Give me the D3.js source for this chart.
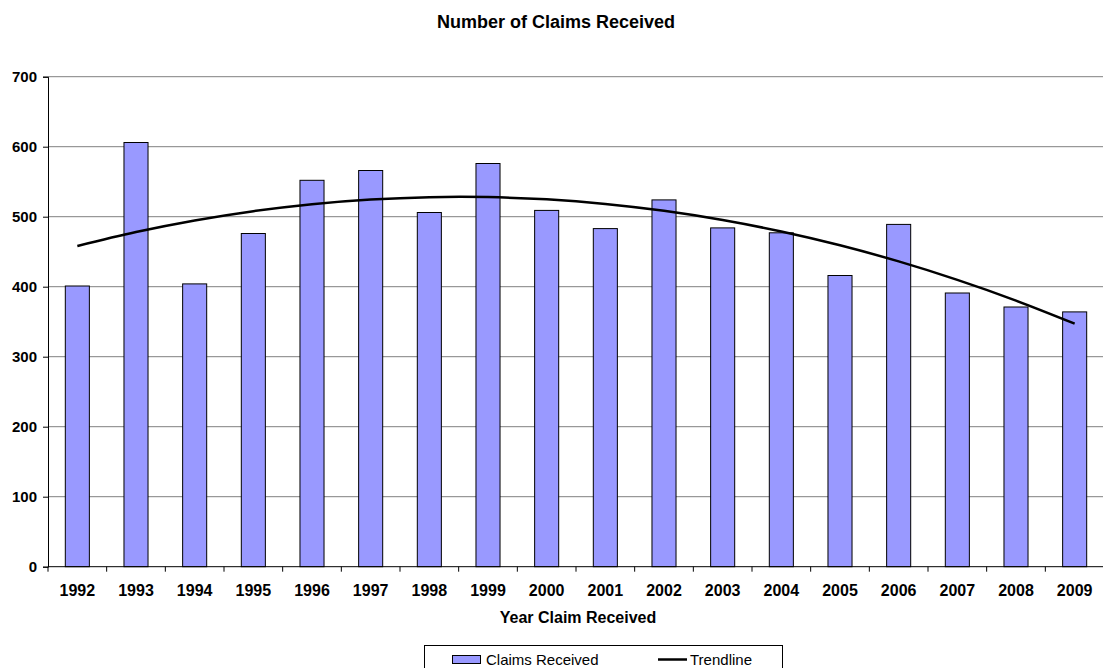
<!DOCTYPE html>
<html>
<head>
<meta charset="utf-8">
<script src="https://cdn.jsdelivr.net/npm/d3@7"></script>
<style>
  html, body { margin: 0; padding: 0; background: #fff; }
  svg { display: block; font-family: Arial, "Liberation Sans", sans-serif; }
</style>
</head>
<body>
<svg id="chart" width="1103" height="668"></svg>
<script>
// Annual claim counts
const years = ["1992","1993","1994","1995","1996","1997","1998","1999","2000",
               "2001","2002","2003","2004","2005","2006","2007","2008","2009"];
const claims = [401, 606, 404, 476, 552, 566, 506, 576, 509,
                483, 524, 484, 477, 416, 489, 391, 371, 364];
const yTicks = [0, 100, 200, 300, 400, 500, 600, 700];

const svg = d3.select("#chart");
const plotLeft = 48, plotRight = 1104, plotTop = 76.7, plotBottom = 566.7;

const x = d3.scaleBand().domain(years).range([plotLeft, plotRight]).padding(0);
const y = d3.scaleLinear().domain([0, 700]).range([plotBottom, plotTop]);
const step = x.step();
const barW = step * 0.41;

// Horizontal gridlines
svg.append("g").selectAll("line")
  .data(yTicks.filter(v => v > 0))
  .join("line")
  .attr("x1", plotLeft).attr("x2", plotRight)
  .attr("y1", d => y(d)).attr("y2", d => y(d))
  .attr("stroke", "#808080").attr("stroke-width", 1);

// Bars
svg.append("g").selectAll("rect")
  .data(years.map((yr, i) => ({ yr, v: claims[i] })))
  .join("rect")
  .attr("x", d => x(d.yr) + (step - barW) / 2)
  .attr("y", d => y(d.v))
  .attr("width", barW)
  .attr("height", d => y(0) - y(d.v))
  .attr("fill", "#9999ff")
  .attr("stroke", "#000")
  .attr("stroke-width", 1);

// Second-order polynomial least-squares trend through the claim counts
function quadFit(vals) {
  const s = [0, 0, 0, 0, 0], r = [0, 0, 0];
  vals.forEach((v, i) => {
    const t = i + 1;
    for (let k = 0; k <= 4; k++) s[k] += Math.pow(t, k);
    for (let k = 0; k <= 2; k++) r[k] += v * Math.pow(t, k);
  });
  const A = [[s[0], s[1], s[2], r[0]], [s[1], s[2], s[3], r[1]], [s[2], s[3], s[4], r[2]]];
  for (let c = 0; c < 3; c++) {
    for (let rr = c + 1; rr < 3; rr++) {
      const f = A[rr][c] / A[c][c];
      for (let k = c; k < 4; k++) A[rr][k] -= f * A[c][k];
    }
  }
  const coef = [0, 0, 0];
  for (let c = 2; c >= 0; c--) {
    let sum = A[c][3];
    for (let k = c + 1; k < 3; k++) sum -= A[c][k] * coef[k];
    coef[c] = sum / A[c][c];
  }
  return t => coef[0] + coef[1] * t + coef[2] * t * t;
}
const trend = quadFit(claims);
const trendPts = years.map((yr, i) => [x(yr) + step / 2, y(trend(i + 1))]);

svg.append("path")
  .attr("d", d3.line().curve(d3.curveNatural)(trendPts))
  .attr("fill", "none")
  .attr("stroke", "#000")
  .attr("stroke-width", 2.5);

// Y axis
const yAxis = svg.append("g")
  .attr("transform", `translate(${plotLeft},0)`)
  .call(d3.axisLeft(y).tickValues(yTicks).tickSize(5).tickPadding(6));
yAxis.select(".domain").attr("stroke", "#000");
yAxis.selectAll("line").attr("stroke", "#000");
yAxis.selectAll("text")
  .attr("font-family", "Arial, 'Liberation Sans', sans-serif")
  .attr("font-size", 15).attr("font-weight", "bold").attr("fill", "#000");

// X axis baseline, tick marks at category boundaries, labels centered
svg.append("line")
  .attr("x1", plotLeft).attr("x2", plotRight)
  .attr("y1", plotBottom).attr("y2", plotBottom)
  .attr("stroke", "#000");
const bounds = years.map(yr => x(yr)).concat([plotRight]);
svg.append("g").selectAll("line")
  .data(bounds)
  .join("line")
  .attr("x1", d => d).attr("x2", d => d)
  .attr("y1", plotBottom).attr("y2", plotBottom + 5)
  .attr("stroke", "#000");
svg.append("g").selectAll("text")
  .data(years)
  .join("text")
  .attr("x", d => x(d) + step / 2)
  .attr("y", 596)
  .attr("text-anchor", "middle")
  .attr("font-size", 16).attr("font-weight", "bold")
  .text(d => d);

// Titles
svg.append("text")
  .attr("x", 556).attr("y", 27.5)
  .attr("text-anchor", "middle")
  .attr("font-size", 18).attr("font-weight", "bold")
  .text("Number of Claims Received");
svg.append("text")
  .attr("x", 578).attr("y", 623)
  .attr("text-anchor", "middle")
  .attr("font-size", 16).attr("font-weight", "bold")
  .text("Year Claim Received");

// Legend
const lg = svg.append("g");
lg.append("rect")
  .attr("x", 424.5).attr("y", 645.5)
  .attr("width", 358).attr("height", 40)
  .attr("fill", "#fff").attr("stroke", "#000");
lg.append("rect")
  .attr("x", 452.5).attr("y", 655.5)
  .attr("width", 28).attr("height", 8)
  .attr("fill", "#9999ff").attr("stroke", "#000");
lg.append("text")
  .attr("x", 486).attr("y", 665)
  .attr("font-size", 15)
  .text("Claims Received");
lg.append("line")
  .attr("x1", 658).attr("x2", 687)
  .attr("y1", 659.5).attr("y2", 659.5)
  .attr("stroke", "#000").attr("stroke-width", 2.5);
lg.append("text")
  .attr("x", 690).attr("y", 665)
  .attr("font-size", 15)
  .text("Trendline");
</script>
</body>
</html>
